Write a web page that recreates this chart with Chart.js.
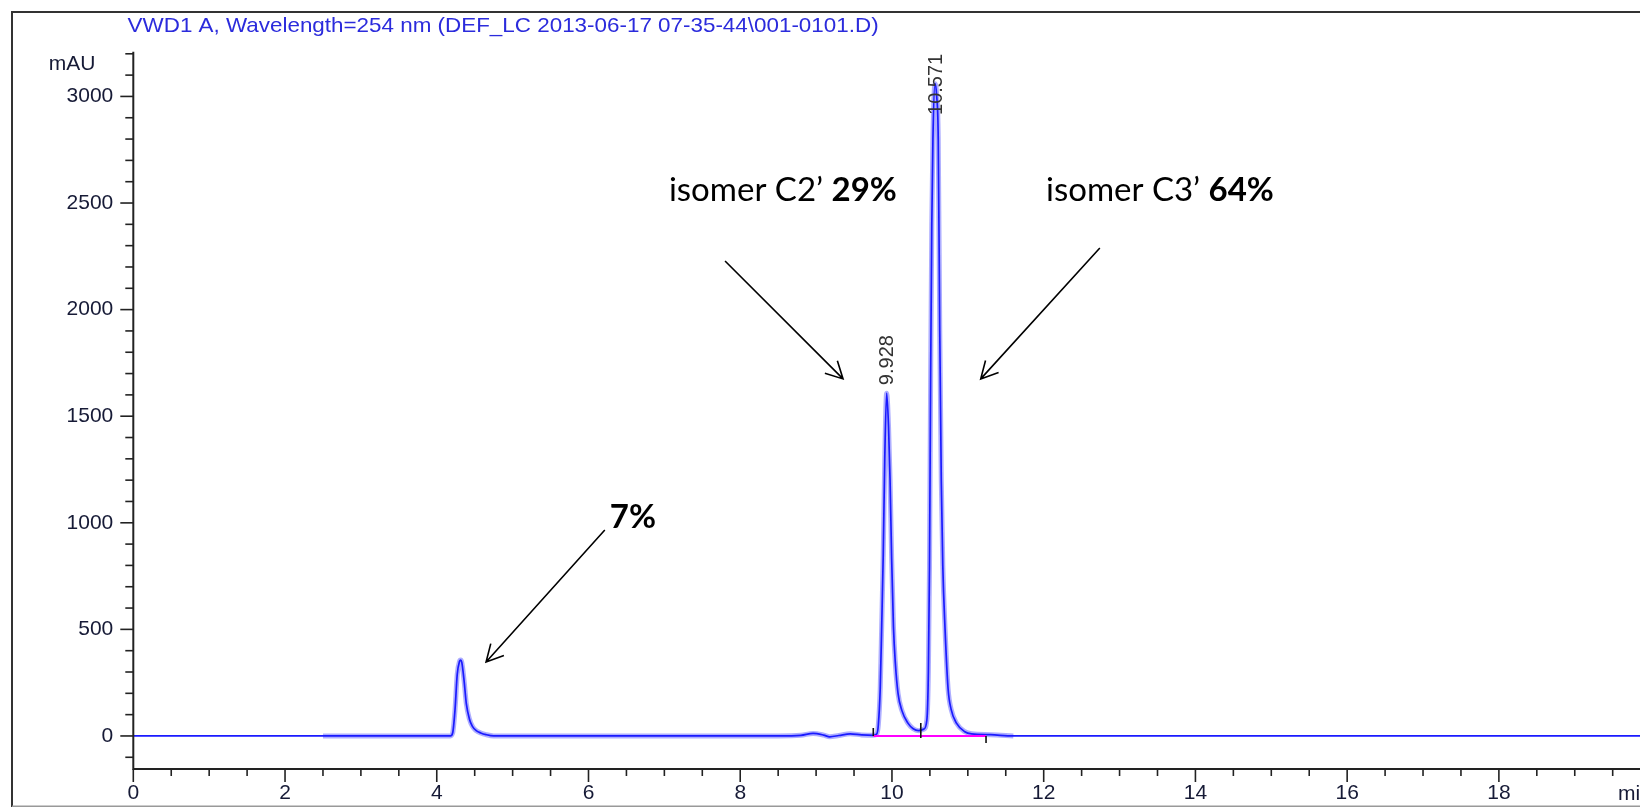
<!DOCTYPE html>
<html><head><meta charset="utf-8">
<script src="https://cdn.jsdelivr.net/npm/chart.js@4.4.1/dist/chart.umd.min.js"></script>
<style>html,body{margin:0;padding:0;background:#fff;overflow:hidden}#wrap{width:1640px;height:807px;position:relative}</style>
</head><body><div id="wrap"><canvas id="c"></canvas></div>
<script>
// ---- data ----
const timeMin = [0, 2.5, 4.0, 4.18, 4.21, 4.24, 4.27, 4.30, 4.315, 4.33, 4.36, 4.39, 4.43, 4.47, 4.52, 4.58, 4.65, 4.75,
  8.5, 8.8, 8.96, 9.1, 9.18, 9.3, 9.45, 9.6, 9.75, 9.80, 9.82, 9.845, 9.865, 9.885, 9.905, 9.93, 9.955, 9.975, 9.996,
  10.02, 10.045, 10.08, 10.13, 10.21, 10.28, 10.35, 10.42, 10.46, 10.48, 10.495, 10.51, 10.525, 10.54, 10.567, 10.59,
  10.61, 10.63, 10.65, 10.67, 10.70, 10.74, 10.78, 10.85, 10.96, 11.05, 11.3, 11.6, 19.86];
const signalMAU = [0, 0, 0, 0, 15, 120, 290, 350, 356, 345, 260, 150, 80, 45, 25, 14, 6, 0,
  0, 3, 12, 4, -4, 2, 10, 5, 3, 10, 50, 220, 520, 850, 1300, 1608, 1450, 1200, 830,
  510, 340, 200, 120, 60, 34, 25, 32, 75, 300, 800, 1700, 2400, 2800, 3060, 3000,
  2800, 1900, 1200, 800, 500, 220, 125, 60, 20, 10, 6, 0, 0];
const haloRange = [2.47, 11.6];
const peakTimes = [9.928, 10.571];
const peakLabels = ['9.928', '10.571'];
const integrationMarks = [9.754, 10.38, 11.24];
const xRange = [0, 19.86];
const yRange = [-155, 3200];
const xTickStep = 0.5, xLabelEvery = 2;
const yTickStep = 100, yLabelEvery = 500;
const titleText = 'VWD1 A, Wavelength=254 nm (DEF_LC 2013-06-17 07-35-44\\001-0101.D)';
const yUnit = 'mAU', xUnit = 'min';
const noteNormal = ['isomer C2\u2019 ', 'isomer C3\u2019 ', ''];
const noteBold = ['29%', '64%', '7%'];
const noteAt = [[7.06, 2511], [12.03, 2511], [6.28, 976]];
const arrowFrom = [[7.80, 2228], [12.74, 2289], [6.215, 966]];
const arrowTo = [[9.355, 1675], [11.17, 1675], [4.65, 347]];

const pts = timeMin.map((t, i) => ({x: t, y: signalMAU[i]}));
const haloPts = pts.filter(p => p.x >= haloRange[0] && p.x <= haloRange[1]);

const near = (v, s) => Math.abs(v / s - Math.round(v / s)) < 1e-6;
const AXIS_FONT = '21px "Liberation Sans", Arial, sans-serif';
const LABEL_COLOR = '#161a36';

const decor = {
  id: 'decor',
  beforeDraw(chart) {
    const ctx = chart.ctx;
    ctx.save();
    ctx.fillStyle = '#fff';
    ctx.fillRect(0, 0, chart.width, chart.height);
    ctx.restore();
  },
  afterDraw(chart) {
    const ctx = chart.ctx, xs = chart.scales.x, ys = chart.scales.y, a = chart.chartArea;
    ctx.save();
    // outer frame
    ctx.strokeStyle = '#333'; ctx.lineWidth = 2;
    ctx.beginPath(); ctx.moveTo(12, 807); ctx.lineTo(12, 12); ctx.lineTo(1640, 12); ctx.stroke();
    ctx.strokeStyle = '#999'; ctx.lineWidth = 1.5;
    ctx.beginPath(); ctx.moveTo(12, 806.2); ctx.lineTo(1640, 806.2); ctx.stroke();
    // axes
    ctx.strokeStyle = '#222'; ctx.lineWidth = 2;
    ctx.beginPath(); ctx.moveTo(a.left, a.top - 2); ctx.lineTo(a.left, a.bottom); ctx.lineTo(a.right, a.bottom); ctx.stroke();
    ctx.lineWidth = 1.6;
    ys.ticks.forEach(t => {
      const y = ys.getPixelForValue(t.value);
      const L = near(t.value, yLabelEvery) ? 13 : 8;
      ctx.beginPath(); ctx.moveTo(a.left - L, y); ctx.lineTo(a.left, y); ctx.stroke();
    });
    xs.ticks.forEach(t => {
      const x = xs.getPixelForValue(t.value);
      const L = near(t.value, xLabelEvery) ? 13 : 7;
      ctx.beginPath(); ctx.moveTo(x, a.bottom); ctx.lineTo(x, a.bottom + L); ctx.stroke();
    });
    // unit labels
    ctx.font = AXIS_FONT; ctx.fillStyle = LABEL_COLOR;
    ctx.textAlign = 'right'; ctx.textBaseline = 'middle';
    ctx.fillText(yUnit, a.left - 38, ys.getPixelForValue(3150));
    ctx.textAlign = 'left';
    ctx.fillText(xUnit, 1618, 794);
    // title
    ctx.font = '21px "Liberation Sans", Arial, sans-serif';
    ctx.fillStyle = '#2b2bdc';
    ctx.textAlign = 'left'; ctx.textBaseline = 'middle';
    const tw = ctx.measureText(titleText).width;
    ctx.save(); ctx.translate(127.6, 26); ctx.scale(751 / tw, 1); ctx.fillText(titleText, 0, 0); ctx.restore();
    // integration baseline
    const y0 = ys.getPixelForValue(0);
    ctx.strokeStyle = '#ff00ff'; ctx.lineWidth = 2;
    ctx.beginPath(); ctx.moveTo(xs.getPixelForValue(integrationMarks[0]), y0);
    ctx.lineTo(xs.getPixelForValue(integrationMarks[2]), y0); ctx.stroke();
    ctx.strokeStyle = '#111'; ctx.lineWidth = 1.6;
    const m = integrationMarks.map(v => xs.getPixelForValue(v));
    ctx.beginPath();
    ctx.moveTo(m[0], y0 - 8); ctx.lineTo(m[0], y0);
    ctx.moveTo(m[1], y0 - 13); ctx.lineTo(m[1], y0 + 2);
    ctx.moveTo(m[2], y0); ctx.lineTo(m[2], y0 + 7);
    ctx.stroke();
    // peak retention time labels
    ctx.font = '20px "Liberation Sans", Arial, sans-serif';
    ctx.fillStyle = '#333';
    peakTimes.forEach((pt, i) => {
      let apex = 0;
      pts.forEach(p => { if (Math.abs(p.x - pt) < 0.06 && p.y > apex) apex = p.y; });
      const w = ctx.measureText(peakLabels[i]).width;
      const yb = Math.max(ys.getPixelForValue(apex) - 8, a.top + w);
      ctx.save(); ctx.translate(xs.getPixelForValue(pt) + 1, yb); ctx.rotate(-Math.PI / 2);
      ctx.textAlign = 'left'; ctx.textBaseline = 'middle';
      ctx.fillText(peakLabels[i], 0, 0); ctx.restore();
    });
    // annotation notes
    ctx.fillStyle = '#000'; ctx.textBaseline = 'alphabetic'; ctx.textAlign = 'left';
    noteAt.forEach((p, i) => {
      let x = xs.getPixelForValue(p[0]); const y = ys.getPixelForValue(p[1]);
      ctx.font = '33px Lato, sans-serif';
      ctx.fillText(noteNormal[i], x, y);
      x += ctx.measureText(noteNormal[i]).width;
      ctx.font = 'bold 33px Lato, sans-serif';
      ctx.fillText(noteBold[i], x, y);
    });
    // arrows
    ctx.strokeStyle = '#000'; ctx.lineWidth = 1.6;
    arrowFrom.forEach((f, i) => {
      const x0 = xs.getPixelForValue(f[0]), y0a = ys.getPixelForValue(f[1]);
      const x1 = xs.getPixelForValue(arrowTo[i][0]), y1 = ys.getPixelForValue(arrowTo[i][1]);
      const ang = Math.atan2(y1 - y0a, x1 - x0), h = 19, s = Math.PI / 6.5;
      ctx.beginPath(); ctx.moveTo(x0, y0a); ctx.lineTo(x1, y1);
      ctx.moveTo(x1 - h * Math.cos(ang - s), y1 - h * Math.sin(ang - s)); ctx.lineTo(x1, y1);
      ctx.lineTo(x1 - h * Math.cos(ang + s), y1 - h * Math.sin(ang + s));
      ctx.stroke();
    });
    ctx.restore();
  }
};

new Chart(document.getElementById('c'), {
  type: 'line',
  data: {
    datasets: [
      {data: pts, borderColor: '#1a1aff', borderWidth: 1.7, pointRadius: 0, cubicInterpolationMode: 'monotone', order: 0},
      {data: haloPts, borderColor: 'rgba(140,140,255,0.7)', borderWidth: 5, pointRadius: 0, cubicInterpolationMode: 'monotone', order: 1}
    ]
  },
  options: {
    animation: false, responsive: true, maintainAspectRatio: false, devicePixelRatio: 1,
    layout: {padding: {top: 53.8, left: 0, right: 0, bottom: 0}},
    plugins: {legend: {display: false}, tooltip: {enabled: false}, title: {display: false}},
    events: [],
    scales: {
      x: {
        type: 'linear', min: xRange[0], max: xRange[1],
        grid: {display: false, drawTicks: false},
        border: {display: false},
        ticks: {stepSize: xTickStep, autoSkip: false, maxRotation: 0, includeBounds: false, padding: 12,
          font: {family: '"Liberation Sans", Arial, sans-serif', size: 21}, color: LABEL_COLOR,
          callback: v => near(v, xLabelEvery) ? String(Math.round(v)) : ''},
        afterFit: s => { s.height = 38; }
      },
      y: {
        type: 'linear', min: yRange[0], max: yRange[1],
        grid: {display: false, drawTicks: false},
        border: {display: false},
        ticks: {stepSize: yTickStep, autoSkip: false, includeBounds: false, padding: 20,
          font: {family: '"Liberation Sans", Arial, sans-serif', size: 21}, color: LABEL_COLOR,
          callback: v => near(v, yLabelEvery) ? String(Math.round(v)) : ''},
        afterFit: s => { s.width = 133.3; }
      }
    }
  },
  plugins: [decor]
});
</script></body></html>
